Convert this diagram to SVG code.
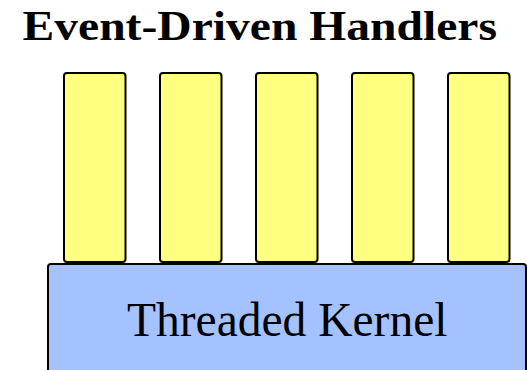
<svg xmlns="http://www.w3.org/2000/svg" width="527" height="370" viewBox="0 0 527 370">
<style>
.bar{fill:#FFFF80;stroke:#000;stroke-width:2}
.kern{fill:#A4C2FF;stroke:#000;stroke-width:2}
.title{font-family:"Liberation Serif",serif;font-weight:bold;font-size:43px;fill:#000}
.lbl{font-family:"Liberation Serif",serif;font-size:47.5px;fill:#000}
</style>
<rect width="527" height="370" fill="#fff"/>
<text class="title" x="22.5" y="39.5" textLength="474.5" lengthAdjust="spacingAndGlyphs">Event-Driven Handlers</text>
<g id="kernel">
<rect class="kern" x="48" y="264" width="478" height="120" rx="3"/>
<text class="lbl" x="127" y="335.7">Threaded Kernel</text>
</g>
<g id="handler1"><rect class="bar" x="64" y="73" width="61.5" height="189" rx="3"/></g>
<g id="handler2"><rect class="bar" x="160" y="73" width="61.5" height="189" rx="3"/></g>
<g id="handler3"><rect class="bar" x="256" y="73" width="61.5" height="189" rx="3"/></g>
<g id="handler4"><rect class="bar" x="352" y="73" width="61.5" height="189" rx="3"/></g>
<g id="handler5"><rect class="bar" x="448" y="73" width="61.5" height="189" rx="3"/></g>
<g id="connectors"/>
</svg>
